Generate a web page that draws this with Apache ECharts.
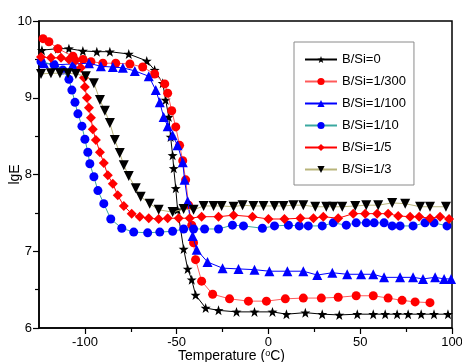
<!DOCTYPE html>
<html>
<head>
<meta charset="utf-8">
<script src="https://cdn.jsdelivr.net/npm/echarts@6/dist/echarts.min.js"></script>
<style>
  html, body { margin: 0; padding: 0; background: #fff; }
  #chart { width: 462px; height: 362px; }
</style>
</head>
<body>
<div id="chart"></div>
<script>
// Storage modulus (lgE) versus temperature for several B/Si ratios
const seriesNames = ['B/Si=0', 'B/Si=1/300', 'B/Si=1/100', 'B/Si=1/10', 'B/Si=1/5', 'B/Si=1/3'];

const xTickLabels = [-100, -50, 0, 50, 100];
const xMinorTicks = [-75, -25, 25, 75];
const yTickLabels = [6, 7, 8, 9, 10];

const bsi0 = [
  [-123.4, 9.62], [-114.7, 9.64], [-108.7, 9.64], [-101.1, 9.61], [-93.5, 9.60], [-86.4, 9.60],
  [-76.1, 9.57], [-66.3, 9.48], [-62.0, 9.36], [-57.6, 9.19], [-56.0, 8.97], [-54.3, 8.75],
  [-53.3, 8.49], [-52.2, 8.25], [-51.6, 8.08], [-50.5, 7.82], [-49.5, 7.54], [-46.2, 7.03],
  [-44.0, 6.77], [-41.8, 6.63], [-39.7, 6.43], [-34.2, 6.26], [-27.2, 6.23], [-17.4, 6.21],
  [-7.6, 6.21], [2.2, 6.21], [9.8, 6.18], [20.1, 6.20], [29.3, 6.18], [38.6, 6.17],
  [48.4, 6.18], [57.1, 6.18], [63.6, 6.18], [70.1, 6.18], [76.1, 6.18], [83.2, 6.18],
  [90.2, 6.18], [97.8, 6.18]
];

const bsi300 = [
  [-122.8, 9.77], [-119.6, 9.73], [-114.7, 9.64], [-106.5, 9.54], [-101.0, 9.50], [-96.7, 9.47],
  [-90.2, 9.45], [-83.2, 9.45], [-75.5, 9.44], [-68.5, 9.40], [-62.0, 9.31], [-56.5, 9.18],
  [-54.9, 9.06], [-52.7, 8.83], [-50.5, 8.62], [-48.4, 8.38], [-46.7, 8.18], [-45.1, 7.93],
  [-43.5, 7.60], [-41.8, 7.34], [-40.8, 7.11], [-39.7, 6.89], [-36.4, 6.61], [-30.4, 6.44],
  [-21.2, 6.38], [-10.9, 6.35], [-1.1, 6.35], [9.2, 6.38], [19.0, 6.39], [28.8, 6.39],
  [38.0, 6.40], [47.8, 6.42], [57.1, 6.42], [65.2, 6.39], [72.8, 6.36], [79.9, 6.34],
  [88.0, 6.33]
];

const bsi100 = [
  [-122.3, 9.45], [-115.8, 9.43], [-106.5, 9.44], [-97.8, 9.45], [-91.3, 9.41], [-84.8, 9.40],
  [-79.3, 9.39], [-72.8, 9.35], [-65.2, 9.28], [-61.4, 9.10], [-59.2, 8.94], [-57.1, 8.75],
  [-54.9, 8.63], [-52.2, 8.51], [-49.5, 8.38], [-46.7, 8.16], [-45.7, 7.93], [-44.0, 7.65],
  [-41.3, 7.20], [-39.1, 7.02], [-33.2, 6.86], [-25.0, 6.78], [-16.3, 6.77], [-7.6, 6.76],
  [0.5, 6.74], [10.3, 6.74], [19.0, 6.74], [26.6, 6.69], [34.8, 6.72], [42.9, 6.70],
  [50.5, 6.70], [57.1, 6.70], [63.0, 6.66], [71.7, 6.66], [78.8, 6.66], [84.2, 6.64],
  [90.8, 6.66], [95.7, 6.64], [99.5, 6.64]
];

const bsi10 = [
  [-123.9, 9.47], [-116.8, 9.43], [-112.0, 9.36], [-108.7, 9.24], [-107.1, 9.10], [-105.4, 8.94],
  [-103.8, 8.79], [-101.6, 8.63], [-100.0, 8.46], [-98.4, 8.29], [-97.3, 8.14], [-95.1, 7.97],
  [-92.9, 7.79], [-89.7, 7.62], [-85.9, 7.42], [-79.9, 7.30], [-73.4, 7.25], [-65.8, 7.24],
  [-59.2, 7.25], [-52.2, 7.26], [-46.2, 7.29], [-40.8, 7.29], [-34.8, 7.29], [-27.2, 7.29],
  [-19.6, 7.34], [-13.6, 7.33], [-3.3, 7.30], [3.3, 7.33], [10.9, 7.34], [16.8, 7.33],
  [21.7, 7.33], [29.3, 7.33], [35.3, 7.37], [42.4, 7.34], [47.8, 7.37], [53.3, 7.37],
  [57.6, 7.37], [63.0, 7.37], [67.4, 7.33], [71.7, 7.33], [78.8, 7.33], [85.3, 7.37],
  [90.2, 7.37], [97.3, 7.33]
];

const bsi5 = [
  [-123.9, 9.53], [-118.5, 9.52], [-113.0, 9.52], [-108.7, 9.50], [-104.9, 9.49], [-102.2, 9.39],
  [-100.5, 9.26], [-100.0, 9.14], [-98.9, 9.00], [-97.8, 8.87], [-96.7, 8.74], [-95.7, 8.59],
  [-94.0, 8.45], [-91.8, 8.29], [-89.7, 8.15], [-87.5, 7.99], [-84.8, 7.88], [-82.1, 7.73],
  [-78.8, 7.59], [-74.5, 7.49], [-70.1, 7.45], [-65.2, 7.43], [-59.8, 7.42], [-54.9, 7.43],
  [-48.9, 7.43], [-42.9, 7.43], [-36.4, 7.45], [-27.2, 7.45], [-19.0, 7.47], [-8.7, 7.45],
  [0.0, 7.42], [8.7, 7.42], [17.4, 7.43], [24.5, 7.43], [29.9, 7.45], [38.0, 7.43],
  [46.2, 7.49], [52.7, 7.49], [59.2, 7.49], [65.2, 7.49], [70.7, 7.46], [77.2, 7.45],
  [82.1, 7.45], [88.0, 7.43], [93.5, 7.45], [98.4, 7.42]
];

const bsi3 = [
  [-123.9, 9.31], [-118.5, 9.32], [-113.6, 9.32], [-109.2, 9.32], [-104.9, 9.31], [-99.5, 9.28],
  [-95.1, 9.19], [-91.8, 8.97], [-89.1, 8.83], [-86.4, 8.67], [-83.7, 8.45], [-81.0, 8.28],
  [-78.8, 8.12], [-76.1, 7.98], [-72.3, 7.82], [-69.6, 7.71], [-64.7, 7.62], [-59.8, 7.54],
  [-52.2, 7.51], [-46.2, 7.55], [-40.8, 7.54], [-35.3, 7.59], [-29.9, 7.59], [-25.5, 7.59],
  [-19.0, 7.58], [-14.1, 7.60], [-8.2, 7.59], [-2.7, 7.59], [3.3, 7.59], [8.2, 7.59],
  [13.6, 7.60], [19.0, 7.60], [25.5, 7.58], [31.5, 7.58], [35.3, 7.58], [40.2, 7.58],
  [47.3, 7.59], [53.3, 7.60], [59.8, 7.60], [67.4, 7.63], [74.5, 7.62], [82.6, 7.58],
  [88.0, 7.58], [96.7, 7.58]
];

// Five-pointed star marker built as an SVG path
function starPath() {
  const pts = [];
  for (let i = 0; i < 10; i++) {
    const r = i % 2 === 0 ? 50 : 20;
    const a = -Math.PI / 2 + i * Math.PI / 5;
    pts.push((50 + r * Math.cos(a)).toFixed(2) + ' ' + (50 + r * Math.sin(a)).toFixed(2));
  }
  return 'path://M' + pts.join(' L') + ' Z';
}
const STAR = starPath();

const styles = [
  { data: bsi0,   symbol: STAR,       rotate: 0,   size: 10, fill: '#000000', line: '#000000' },
  { data: bsi300, symbol: 'circle',   rotate: 0,   size: 9,  fill: '#ff0000', line: '#ff5a5a' },
  { data: bsi100, symbol: 'triangle', rotate: 0,   size: 10, fill: '#0000ff', line: '#0000ff' },
  { data: bsi10,  symbol: 'circle',   rotate: 0,   size: 9,  fill: '#0000ff', line: '#3aa8a0' },
  { data: bsi5,   symbol: 'diamond',  rotate: 0,   size: 10, fill: '#ff0000', line: '#ff0000' },
  { data: bsi3,   symbol: 'triangle', rotate: 180, size: 10, fill: '#000000', line: '#b8b47a' }
];

const series = styles.map((s, i) => ({
  name: seriesNames[i],
  type: 'line',
  data: s.data,
  symbol: s.symbol,
  symbolRotate: s.rotate,
  symbolSize: s.size,
  showAllSymbol: true,
  itemStyle: { color: s.fill, borderWidth: 0 },
  lineStyle: { color: s.line, width: 1 },
  emphasis: { disabled: true },
  z: 2 + i
}));

const FONT = 'Liberation Sans, Arial, sans-serif';

const chart = echarts.init(document.getElementById('chart'), null, { renderer: 'canvas' });
chart.setOption({
  animation: false,
  backgroundColor: '#ffffff',
  grid: {
    left: 39, right: 10, top: 21, bottom: 34,
    outerBoundsMode: 'none', containLabel: false,
    show: true, borderColor: '#000', borderWidth: 1.5, backgroundColor: 'transparent'
  },
  legend: {
    orient: 'vertical',
    left: 294, top: 42,
    padding: [11, 8, 9, 10],
    itemWidth: 32, itemHeight: 9, itemGap: 9,
    borderColor: '#8a8a8a', borderWidth: 1,
    backgroundColor: '#fff',
    textStyle: { fontFamily: FONT, fontSize: 13, color: '#000', padding: [0, 0, 0, 0] },
    data: seriesNames
  },
  xAxis: [
    {
      type: 'value', min: -125, max: 100,
      axisLine: { show: true, onZero: false, lineStyle: { color: '#000', width: 1.5 } },
      axisTick: { show: true, inside: false, length: 6, customValues: xTickLabels, lineStyle: { color: '#000', width: 1.2 } },
      axisLabel: { customValues: xTickLabels, fontFamily: FONT, fontSize: 13, color: '#000', margin: 8 },
      splitLine: { show: false }
    },
    {
      type: 'value', min: -125, max: 100, position: 'bottom',
      axisLine: { show: false },
      axisTick: { show: true, inside: false, length: 4, customValues: xMinorTicks, lineStyle: { color: '#000', width: 1.2 } },
      axisLabel: { show: false },
      splitLine: { show: false }
    }
  ],
  yAxis: {
    type: 'value', min: 6, max: 10, interval: 1,
    name: 'lgE', nameLocation: 'middle', nameGap: 17, nameRotate: 90, nameMoveOverlap: false,
    nameTextStyle: { fontFamily: FONT, fontSize: 14, color: '#000' },
    axisLine: { show: true, onZero: false, lineStyle: { color: '#000', width: 1.5 } },
    axisTick: { show: true, inside: false, length: 6, lineStyle: { color: '#000', width: 1.2 } },
    minorTick: { show: true, splitNumber: 2, length: 4, lineStyle: { color: '#000', width: 1.2 } },
    axisLabel: { fontFamily: FONT, fontSize: 13, color: '#000', margin: 7, formatter: v => String(yTickLabels[yTickLabels.indexOf(v)]) },
    splitLine: { show: false }
  },
  graphic: [{
    type: 'text',
    left: 178, top: 349,
    style: {
      text: '{a|Temperature (}{s|o}{a|C)}',
      rich: {
        a: { fontFamily: FONT, fontSize: 14, fill: '#000' },
        s: { fontFamily: FONT, fontSize: 9, fill: '#000', verticalAlign: 'top', padding: [0, 0, 6, 0] }
      }
    }
  }],
  series: series
});
</script>
</body>
</html>
